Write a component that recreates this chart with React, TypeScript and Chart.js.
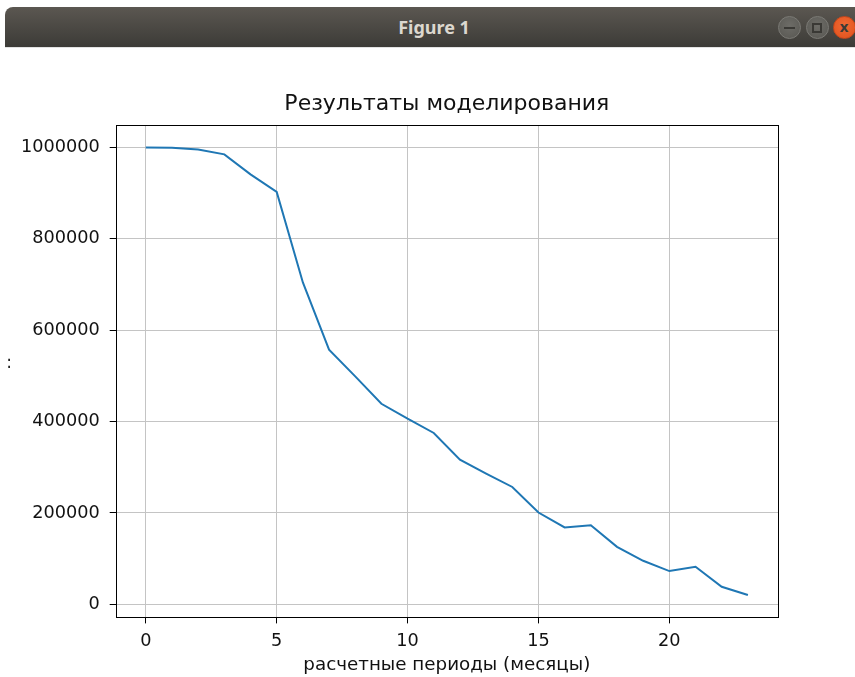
import React, { useEffect, useRef } from "react";
import { Chart, registerables } from "chart.js";

Chart.register(...registerables);

const periods = [0, 1, 2, 3, 4, 5, 6, 7, 8, 9, 10, 11, 12, 13, 14, 15, 16, 17, 18, 19, 20, 21, 22, 23];
const values = [
  1000000, 999000, 995600, 984700, 941000, 902400, 704400, 557400, 498900, 438900,
  406100, 375000, 316600, 286000, 256800, 200900, 168100, 173100, 125800, 95200,
  72700, 82100, 38400, 20300,
];
const xTicks = [0, 5, 10, 15, 20];
const yTicks = [0, 200000, 400000, 600000, 800000, 1000000];
const chartTitle = "Результаты моделирования";
const xLabel = "расчетные периоды (месяцы)";
const yLabel = ":";
const windowTitle = "Figure 1";

const FONT = "'DejaVu Sans', sans-serif";

export default function App() {
  const ref = useRef<HTMLCanvasElement | null>(null);

  useEffect(() => {
    if (!ref.current) return;
    const frame = {
      id: "frame",
      afterDraw(chart: any) {
        const { ctx, chartArea: a } = chart;
        ctx.save();
        ctx.strokeStyle = "#000";
        ctx.lineWidth = 1;
        ctx.strokeRect(Math.round(a.left) + 0.5, Math.round(a.top) + 0.5, Math.round(a.right - a.left), Math.round(a.bottom - a.top));
        ctx.fillStyle = "#222";
        ctx.font = `17px ${FONT}`;
        ctx.textAlign = "center";
        ctx.textBaseline = "middle";
        ctx.fillText(yLabel, 9, (a.top + a.bottom) / 2 - 8);
        ctx.restore();
      },
    };
    const chart = new Chart(ref.current, {
      type: "line",
      data: {
        datasets: [
          {
            data: periods.map((p, i) => ({ x: p, y: values[i] })),
            borderColor: "#1f77b4",
            borderWidth: 2,
            pointRadius: 0,
            tension: 0,
            fill: false,
          },
        ],
      },
      options: {
        animation: false,
        responsive: false,
        maintainAspectRatio: false,
        layout: { padding: { left: 0, right: 77, top: 0, bottom: 0 } },
        plugins: {
          legend: { display: false },
          tooltip: { enabled: false },
          title: {
            display: true,
            fullSize: false,
            text: chartTitle,
            color: "#111",
            font: { family: FONT, size: 22, weight: "normal" },
            padding: { top: 43, bottom: 7.6 },
          },
        },
        scales: {
          x: {
            type: "linear",
            min: -1.15,
            max: 24.15,
            afterBuildTicks: (s: any) => {
              s.ticks = xTicks.map((v) => ({ value: v }));
            },
            afterFit: (s: any) => {
              s.height = 59.6;
            },
            ticks: {
              color: "#111",
              font: { family: FONT, size: 17.7 },
              padding: 7,
              maxRotation: 0,
            },
            grid: { color: "#c4c4c4", lineWidth: 1, tickLength: 6, tickColor: "#000", drawTicks: true },
            border: { display: false },
            title: {
              display: true,
              text: xLabel,
              color: "#111",
              font: { family: FONT, size: 18.3 },
              padding: { top: 0, bottom: 1 },
            },
          },
          y: {
            type: "linear",
            min: -28700,
            max: 1049000,
            afterBuildTicks: (s: any) => {
              s.ticks = yTicks.map((v) => ({ value: v }));
            },
            afterFit: (s: any) => {
              s.width = 115.7;
            },
            ticks: {
              color: "#111",
              font: { family: FONT, size: 17.7 },
              padding: 10,
              callback: (v: any) => String(v),
            },
            grid: { color: "#c4c4c4", lineWidth: 1, tickLength: 6, tickColor: "#000", drawTicks: true },
            border: { display: false },
          },
        },
      },
      plugins: [frame],
    } as any);
    return () => chart.destroy();
  }, []);

  const btn = (x: number, bg: string, border: string, child: React.ReactNode) => (
    <div
      style={{
        position: "absolute",
        left: x - 11.5,
        top: 16,
        width: 23,
        height: 23,
        borderRadius: 12,
        background: bg,
        boxSizing: "border-box",
        border: `1px solid ${border}`,
        display: "flex",
        alignItems: "center",
        justifyContent: "center",
      }}
    >
      {child}
    </div>
  );

  const grayBtn = "radial-gradient(circle at 50% 40%, #6d6c67, #585752)";

  return (
    <div style={{ position: "fixed", left: 0, top: 0, width: 855, height: 677, background: "#fff", overflow: "hidden" }}>
      <div
        style={{
          position: "absolute",
          left: 5,
          top: 7,
          width: 860,
          height: 40,
          borderRadius: "8px 8px 0 0",
          background: "linear-gradient(#5b5751, #3c3b37)",
        }}
      />
      <div
        style={{
          position: "absolute",
          left: 0,
          top: 7,
          width: 868,
          height: 40,
          lineHeight: "40px",
          textAlign: "center",
          color: "#dcd8cf",
          fontFamily: "'Noto Sans', sans-serif",
          fontWeight: "bold",
          fontSize: 18,
        }}
      >
        {windowTitle}
      </div>
      {btn(789.7, grayBtn, "#7b7a75", <div style={{ width: 11, height: 2, background: "#3a3935" }} />)}
      {btn(817, grayBtn, "#7b7a75", <div style={{ width: 10, height: 10, border: "2px solid #3a3935", boxSizing: "border-box" }} />)}
      {btn(844, "radial-gradient(circle at 50% 40%, #f06a34, #e0501c)", "#c8471a", <span style={{ color: "#3c3b37", fontSize: 15, fontWeight: "bold", fontFamily: "'Noto Sans', sans-serif", lineHeight: "15px", marginTop: -2 }}>x</span>)}
      <div style={{ position: "absolute", left: 5, top: 47, width: 850, height: 1, background: "#e2e2e2" }} />
      <canvas ref={ref} width={855} height={629} style={{ position: "absolute", left: 0, top: 48, width: 855, height: 629 }} />
    </div>
  );
}
